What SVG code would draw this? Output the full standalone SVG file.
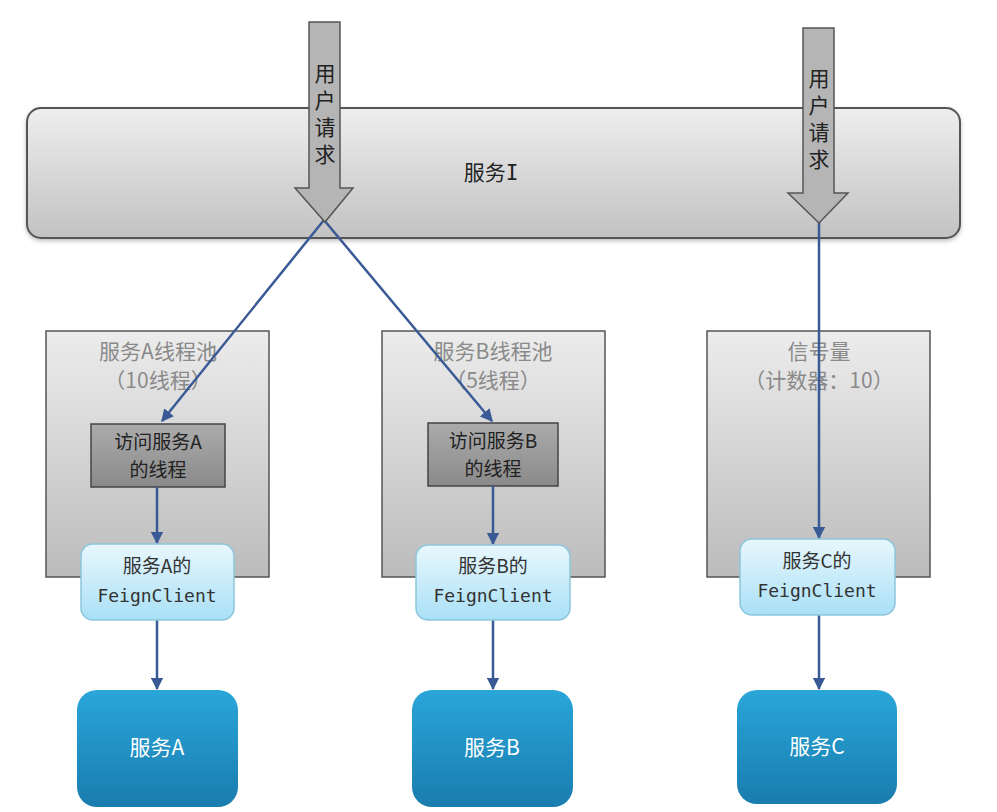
<svg xmlns="http://www.w3.org/2000/svg" width="997" height="812" viewBox="0 0 997 812">
  <defs>
    <linearGradient id="gBar" x1="0" y1="0" x2="0" y2="1">
      <stop offset="0" stop-color="#eeeeee"/>
      <stop offset="1" stop-color="#c2c2c2"/>
    </linearGradient>
    <linearGradient id="gPool" x1="0" y1="0" x2="0" y2="1">
      <stop offset="0" stop-color="#ececec"/>
      <stop offset="1" stop-color="#bcbcbc"/>
    </linearGradient>
    <linearGradient id="gThread" x1="0" y1="0" x2="0" y2="1">
      <stop offset="0" stop-color="#ababab"/>
      <stop offset="1" stop-color="#8a8a8a"/>
    </linearGradient>
    <linearGradient id="gFeign" x1="0" y1="0" x2="0" y2="1">
      <stop offset="0" stop-color="#e8f7fd"/>
      <stop offset="1" stop-color="#a9e0f6"/>
    </linearGradient>
    <linearGradient id="gSvc" x1="0" y1="0" x2="0" y2="1">
      <stop offset="0" stop-color="#2aa6d9"/>
      <stop offset="1" stop-color="#197cae"/>
    </linearGradient>
    <filter id="shadow" x="-5%" y="-5%" width="110%" height="120%">
      <feDropShadow dx="0" dy="2" stdDeviation="2" flood-color="#000" flood-opacity="0.25"/>
    </filter>
    <marker id="arrow" viewBox="0 0 10 10" refX="9" refY="5" markerWidth="5" markerHeight="5" orient="auto" markerUnits="strokeWidth">
      <path d="M0,0 L10,5 L0,10 z" fill="#3a5a96"/>
    </marker>
    <style>
      text { font-family: "Noto Sans CJK SC", "Noto Sans", sans-serif; text-anchor: middle; }
      .bar { fill: url(#gBar); stroke: #555; stroke-width: 2; }
      .pool { fill: url(#gPool); stroke: #555; stroke-width: 1.5; }
      .thread { fill: url(#gThread); stroke: #444; stroke-width: 1.5; }
      .feign { fill: url(#gFeign); stroke: #8cc6dc; stroke-width: 1.5; }
      .svc { fill: url(#gSvc); }
      .req { fill: #b5b5b5; stroke: #555; stroke-width: 1.5; }
      .poolTitle { font-size: 21px; fill: #8a8a8a; }
      .dark { font-size: 21px; fill: #222; }
      .threadText { font-size: 19px; fill: #222; }
      .feignText { font-size: 19px; fill: #333; }
      .mono { font-family: "DejaVu Sans Mono", "Liberation Mono", monospace; font-size: 18px; fill: #333; }
      .svcText { font-size: 21px; fill: #ffffff; }
      .reqText { font-size: 21px; fill: #222; writing-mode: vertical-rl; text-anchor: start; letter-spacing: 6px; }
      .serifI { font-family: "DejaVu Sans Mono", "Liberation Mono", monospace; }
      .link { fill: none; stroke: #3a5a96; stroke-width: 2.5; marker-end: url(#arrow); }
    </style>
  </defs>

  <rect width="997" height="812" fill="#ffffff"/>

  <!-- service I bar -->
  <g id="serviceI">
    <rect class="bar" x="27" y="108" width="933" height="130" rx="14" filter="url(#shadow)"/>
    <text class="dark" x="491" y="180">服务<tspan class="serifI">I</tspan></text>
  </g>

  <!-- thread pools and semaphore -->
  <g id="poolA">
    <rect class="pool" x="46" y="331" width="223" height="246"/>
    <text class="poolTitle" x="158" y="359">服务A线程池</text>
    <text class="poolTitle" x="158" y="388">（10线程）</text>
  </g>
  <g id="poolB">
    <rect class="pool" x="382" y="331" width="223" height="246"/>
    <text class="poolTitle" x="493" y="359">服务B线程池</text>
    <text class="poolTitle" x="493" y="388">（5线程）</text>
  </g>
  <g id="semaphoreC">
    <rect class="pool" x="707" y="331" width="223" height="246"/>
    <text class="poolTitle" x="819" y="359">信号量</text>
    <text class="poolTitle" x="819" y="388">（计数器：10）</text>
  </g>

  <!-- worker threads -->
  <g id="threadA">
    <rect class="thread" x="91" y="424" width="134" height="63"/>
    <text class="threadText" x="158" y="449">访问服务A</text>
    <text class="threadText" x="158" y="477">的线程</text>
  </g>
  <g id="threadB">
    <rect class="thread" x="428" y="423" width="130" height="63"/>
    <text class="threadText" x="493" y="448">访问服务B</text>
    <text class="threadText" x="493" y="476">的线程</text>
  </g>

  <!-- connectors -->
  <g id="connectors">
    <line class="link" x1="324" y1="220" x2="162" y2="421"/>
    <line class="link" x1="324" y1="220" x2="492" y2="421"/>
    <line class="link" x1="819" y1="222" x2="819" y2="538"/>
    <line class="link" x1="157" y1="487" x2="157" y2="543"/>
    <line class="link" x1="493" y1="486" x2="493" y2="544"/>
    <line class="link" x1="157" y1="620" x2="157" y2="689"/>
    <line class="link" x1="493" y1="620" x2="493" y2="689"/>
    <line class="link" x1="819" y1="615" x2="819" y2="689"/>
  </g>

  <!-- feign clients -->
  <g id="feignA">
    <rect class="feign" x="81" y="544" width="153" height="76" rx="12"/>
    <text class="feignText" x="157" y="573">服务A的</text>
    <text class="mono" x="157" y="602">FeignClient</text>
  </g>
  <g id="feignB">
    <rect class="feign" x="416" y="545" width="154" height="75" rx="12"/>
    <text class="feignText" x="493" y="573">服务B的</text>
    <text class="mono" x="493" y="602">FeignClient</text>
  </g>
  <g id="feignC">
    <rect class="feign" x="740" y="539" width="155" height="76" rx="12"/>
    <text class="feignText" x="817" y="568">服务C的</text>
    <text class="mono" x="817" y="597">FeignClient</text>
  </g>

  <!-- downstream services -->
  <g id="serviceA">
    <rect class="svc" x="77" y="690" width="161" height="117" rx="20"/>
    <text class="svcText" x="157" y="755">服务A</text>
  </g>
  <g id="serviceB">
    <rect class="svc" x="412" y="690" width="161" height="117" rx="20"/>
    <text class="svcText" x="492" y="755">服务B</text>
  </g>
  <g id="serviceC">
    <rect class="svc" x="737" y="690" width="160" height="114" rx="20"/>
    <text class="svcText" x="817" y="754">服务C</text>
  </g>

  <!-- incoming user requests -->
  <g id="request1">
    <path class="req" d="M309,22 L340,22 L340,188 L353,188 L325,222 L295,188 L309,188 Z"/>
    <text class="reqText" x="325" y="63">用户请求</text>
  </g>
  <g id="request2">
    <path class="req" d="M803,28 L834,28 L834,193 L848,193 L819,223 L788,193 L803,193 Z"/>
    <text class="reqText" x="819" y="68">用户请求</text>
  </g>
</svg>
